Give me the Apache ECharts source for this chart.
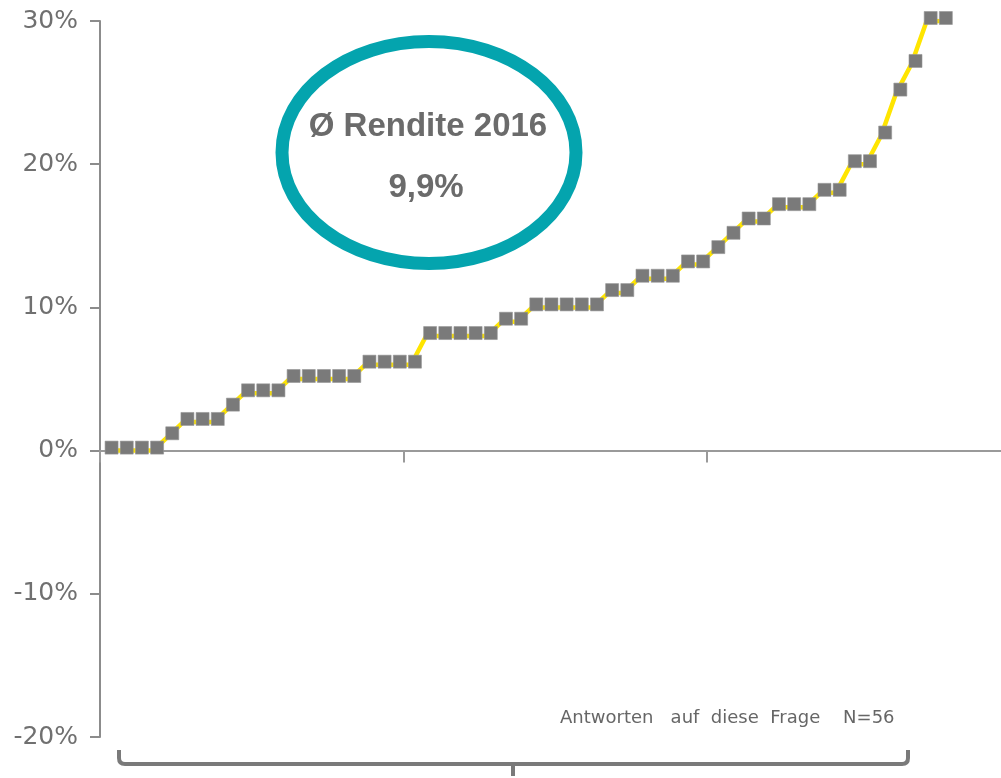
<!DOCTYPE html>
<html>
<head>
<meta charset="utf-8">
<script src="https://cdn.jsdelivr.net/npm/echarts@6/dist/echarts.min.js"></script>
<style>
  html, body { margin: 0; padding: 0; background: #ffffff; }
  #chart { width: 1001px; height: 778px; }
</style>
</head>
<body>
<div id="chart"></div>
<script>
// Reported 2016 returns (%) of all 56 answers, sorted ascending
const returns = [
  0, 0, 0, 0, 1, 2, 2, 2, 3, 4, 4, 4,
  5, 5, 5, 5, 5, 6, 6, 6, 6,
  8, 8, 8, 8, 8, 9, 9,
  10, 10, 10, 10, 10, 11, 11, 12, 12, 12, 13, 13,
  14, 15, 16, 16, 17, 17, 17, 18, 18,
  20, 20, 22, 25, 27, 30, 30
];
// Horizontal axis: answer rank, ticks every 20 answers
const xMin = 0;
const xMax = 59.4;
const xStep = 20;
const xTicks = [0, 20, 40];
// Value axis range and step (%)
const yMin = -20;
const yMax = 30;
const yStep = 10;
const averageTitle = 'Ø Rendite 2016';
const averageValue = '9,9%';
const footnote = 'Antworten   auf  diese  Frage    N=56';

// each answer sits in the middle of its rank slot
const points = returns.map((v, i) => [i + 0.5, v]);

const chart = echarts.init(document.getElementById('chart'), null, { renderer: 'canvas' });

const axisGray = '#8c8c8c';
const braceStyle = { fill: 'none', stroke: '#7a7a7a', lineWidth: 4 };

chart.setOption({
  animation: false,
  backgroundColor: '#ffffff',
  grid: { left: 100, right: 0, top: 21, bottom: 41, containLabel: false },
  xAxis: {
    type: 'value',
    min: xMin,
    max: xMax,
    interval: xStep,
    axisLine: { onZero: true, lineStyle: { color: '#9a9a9a', width: 2 } },
    axisTick: { show: true, customValues: xTicks, length: 12, lineStyle: { color: '#9a9a9a', width: 2 } },
    axisLabel: { show: false },
    splitLine: { show: false }
  },
  yAxis: {
    type: 'value',
    min: yMin,
    max: yMax,
    interval: yStep,
    axisLine: { show: true, onZero: false, lineStyle: { color: axisGray, width: 2 } },
    axisTick: { show: true, length: 10, lineStyle: { color: axisGray, width: 2 } },
    axisLabel: {
      formatter: '{value}%',
      fontFamily: 'DejaVu Sans',
      fontSize: 25,
      color: '#707070',
      margin: 22
    },
    splitLine: { show: false }
  },
  series: [{
    type: 'line',
    data: points,
    lineStyle: { color: '#ffe500', width: 4.5 },
    showSymbol: true,
    showAllSymbol: true,
    symbol: 'rect',
    symbolSize: [13, 13],
    symbolOffset: [4, -3],
    itemStyle: { color: '#7a7a7a', borderColor: '#969696', borderWidth: 0.6, borderRadius: 2 },
    z: 3
  }],
  graphic: [
    {
      type: 'ellipse',
      shape: { cx: 429, cy: 152.5, rx: 147, ry: 111 },
      style: { fill: 'none', stroke: '#04a4ae', lineWidth: 13 },
      z: 10
    },
    {
      type: 'text',
      x: 428, y: 127,
      style: {
        text: averageTitle,
        fill: '#6b6b6b',
        font: 'bold 33px "Liberation Sans", Arial, sans-serif',
        textAlign: 'center',
        textVerticalAlign: 'middle'
      },
      z: 10
    },
    {
      type: 'text',
      x: 426, y: 188,
      style: {
        text: averageValue,
        fill: '#6b6b6b',
        font: 'bold 33px "Liberation Sans", Arial, sans-serif',
        textAlign: 'center',
        textVerticalAlign: 'middle'
      },
      z: 10
    },
    {
      type: 'text',
      x: 560, y: 718,
      style: {
        text: footnote,
        fill: '#666666',
        font: '18px "DejaVu Sans", sans-serif',
        textAlign: 'left',
        textVerticalAlign: 'middle'
      },
      z: 10
    },
    // brace spanning all answers
    {
      type: 'polyline',
      shape: { points: [[119, 750], [119, 758]] },
      style: braceStyle, z: 10
    },
    {
      type: 'bezierCurve',
      shape: { x1: 119, y1: 758, cpx1: 119, cpy1: 764, x2: 125, y2: 764 },
      style: braceStyle, z: 10
    },
    {
      type: 'line',
      shape: { x1: 125, y1: 764, x2: 902, y2: 764 },
      style: braceStyle, z: 10
    },
    {
      type: 'bezierCurve',
      shape: { x1: 902, y1: 764, cpx1: 908, cpy1: 764, x2: 908, y2: 758 },
      style: braceStyle, z: 10
    },
    {
      type: 'polyline',
      shape: { points: [[908, 758], [908, 750]] },
      style: braceStyle, z: 10
    },
    {
      type: 'line',
      shape: { x1: 513, y1: 764, x2: 513, y2: 776 },
      style: braceStyle, z: 10
    }
  ]
});
</script>
</body>
</html>
